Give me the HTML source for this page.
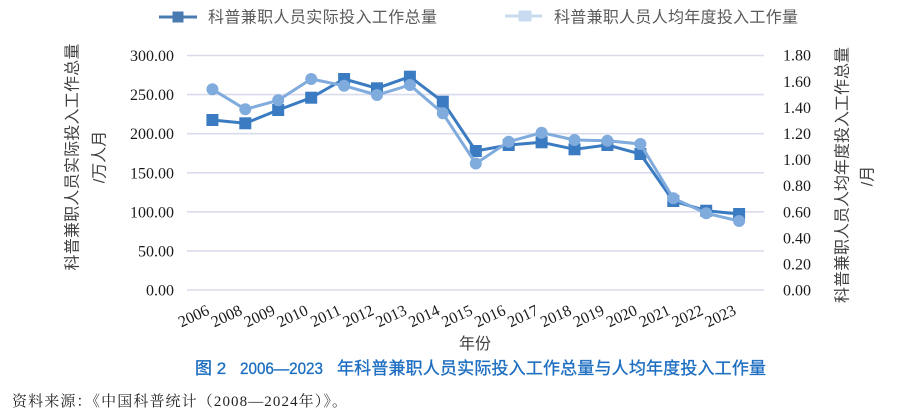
<!DOCTYPE html>
<html><head><meta charset="utf-8"><style>
html,body{margin:0;padding:0;background:#fff;}
svg{display:block;}
.tick{font-family:"Liberation Serif","Noto Serif CJK SC",serif;font-size:16px;fill:#1a1a1a;}
.cjk{font-family:"Liberation Sans","Noto Sans CJK SC",sans-serif;}
</style></head><body>
<svg width="908" height="419" viewBox="0 0 908 419" xmlns="http://www.w3.org/2000/svg">
<!-- legend -->
<line x1="159" y1="17" x2="197" y2="17" stroke="#4a7bb0" stroke-width="3"/>
<rect x="172.5" y="11.5" width="11" height="11" fill="#4a7bb0"/>
<text class="cjk" x="208" y="22.5" font-size="16" fill="#595959" textLength="229" lengthAdjust="spacing">科普兼职人员实际投入工作总量</text>
<line x1="505" y1="16" x2="542" y2="16" stroke="#c8dbf0" stroke-width="3"/>
<rect x="518.5" y="10.5" width="13" height="11" fill="#c8dbf0"/>
<text class="cjk" x="554" y="22.5" font-size="16" fill="#595959" textLength="244" lengthAdjust="spacing">科普兼职人员人均年度投入工作量</text>

<!-- gridlines -->
<g stroke="#d9dcec" stroke-width="1.6">
<line x1="187" y1="55.5" x2="764" y2="55.5"/>
<line x1="187" y1="94.6" x2="764" y2="94.6"/>
<line x1="187" y1="133.7" x2="764" y2="133.7"/>
<line x1="187" y1="172.8" x2="764" y2="172.8"/>
<line x1="187" y1="211.8" x2="764" y2="211.8"/>
<line x1="187" y1="250.9" x2="764" y2="250.9"/>
<line x1="187" y1="290" x2="764" y2="290"/>
</g>

<!-- left ticks -->
<g class="tick" text-anchor="end">
<text x="174" y="61">300.00</text>
<text x="174" y="100.1">250.00</text>
<text x="174" y="139.2">200.00</text>
<text x="174" y="178.3">150.00</text>
<text x="174" y="217.3">100.00</text>
<text x="174" y="256.4">50.00</text>
<text x="174" y="295.5">0.00</text>
</g>
<!-- right ticks -->
<g class="tick" text-anchor="start">
<text x="783" y="60.7">1.80</text>
<text x="783" y="86.8">1.60</text>
<text x="783" y="112.9">1.40</text>
<text x="783" y="139">1.20</text>
<text x="783" y="165.1">1.00</text>
<text x="783" y="191.2">0.80</text>
<text x="783" y="217.3">0.60</text>
<text x="783" y="243.4">0.40</text>
<text x="783" y="269.4">0.20</text>
<text x="783" y="295.5">0.00</text>
</g>

<!-- axis titles -->
<text class="cjk" x="73" y="157" font-size="16" fill="#404040" text-anchor="middle" dominant-baseline="central" transform="rotate(-90 73 157)" textLength="227" lengthAdjust="spacing">科普兼职人员实际投入工作总量</text>
<text class="cjk" x="100" y="157" font-size="16" fill="#404040" text-anchor="middle" dominant-baseline="central" transform="rotate(-90 100 157)">/万人月</text>
<text class="cjk" x="843" y="175" font-size="16" fill="#404040" text-anchor="middle" dominant-baseline="central" transform="rotate(-90 843 175)" textLength="256" lengthAdjust="spacing">科普兼职人员人均年度投入工作总量</text>
<text class="cjk" x="868" y="176" font-size="16" fill="#404040" text-anchor="middle" dominant-baseline="central" transform="rotate(-90 868 176)">/月</text>

<!-- x labels -->
<g class="tick" text-anchor="end">
<text x="210.4" y="314" transform="rotate(-25 210.4 314)">2006</text>
<text x="243.3" y="314" transform="rotate(-25 243.3 314)">2008</text>
<text x="276.2" y="314" transform="rotate(-25 276.2 314)">2009</text>
<text x="309.2" y="314" transform="rotate(-25 309.2 314)">2010</text>
<text x="342.1" y="314" transform="rotate(-25 342.1 314)">2011</text>
<text x="375.0" y="314" transform="rotate(-25 375.0 314)">2012</text>
<text x="407.9" y="314" transform="rotate(-25 407.9 314)">2013</text>
<text x="440.8" y="314" transform="rotate(-25 440.8 314)">2014</text>
<text x="473.8" y="314" transform="rotate(-25 473.8 314)">2015</text>
<text x="506.7" y="314" transform="rotate(-25 506.7 314)">2016</text>
<text x="539.6" y="314" transform="rotate(-25 539.6 314)">2017</text>
<text x="572.5" y="314" transform="rotate(-25 572.5 314)">2018</text>
<text x="605.4" y="314" transform="rotate(-25 605.4 314)">2019</text>
<text x="638.4" y="314" transform="rotate(-25 638.4 314)">2020</text>
<text x="671.3" y="314" transform="rotate(-25 671.3 314)">2021</text>
<text x="704.2" y="314" transform="rotate(-25 704.2 314)">2022</text>
<text x="737.1" y="314" transform="rotate(-25 737.1 314)">2023</text>
</g>
<text class="cjk" x="459" y="349" font-size="16" fill="#404040">年份</text>

<!-- series 1 -->
<polyline fill="none" stroke="#3a7bc1" stroke-width="3" stroke-linejoin="round"
points="212.4,120 245.3,123.3 278.2,110 311.2,97.7 344.1,79 377.0,88.3 409.9,76.7 442.8,101.7 475.8,151 508.7,145 541.6,142.3 574.5,149.3 607.4,145 640.4,154 673.3,201 706.2,210.7 739.1,214"/>
<g fill="#3a7bc1">
<rect x="206.4" y="114" width="12" height="12"/>
<rect x="239.3" y="117.3" width="12" height="12"/>
<rect x="272.2" y="104" width="12" height="12"/>
<rect x="305.2" y="91.7" width="12" height="12"/>
<rect x="338.1" y="73" width="12" height="12"/>
<rect x="371.0" y="82.3" width="12" height="12"/>
<rect x="403.9" y="70.7" width="12" height="12"/>
<rect x="436.8" y="95.7" width="12" height="12"/>
<rect x="469.8" y="145" width="12" height="12"/>
<rect x="502.7" y="139" width="12" height="12"/>
<rect x="535.6" y="136.3" width="12" height="12"/>
<rect x="568.5" y="143.3" width="12" height="12"/>
<rect x="601.4" y="139" width="12" height="12"/>
<rect x="634.4" y="148" width="12" height="12"/>
<rect x="667.3" y="195" width="12" height="12"/>
<rect x="700.2" y="204.7" width="12" height="12"/>
<rect x="733.1" y="208" width="12" height="12"/>
</g>

<!-- series 2 -->
<polyline fill="none" stroke="#80abdd" stroke-width="3" stroke-linejoin="round"
points="212.4,89.3 245.3,109.3 278.2,100.3 311.2,79 344.1,85.7 377.0,95 409.9,85 442.8,113.3 475.8,163.5 508.7,141.7 541.6,132.7 574.5,140 607.4,140.7 640.4,144 673.3,198.3 706.2,213.3 739.1,221"/>
<g fill="#80abdd">
<circle cx="212.4" cy="89.3" r="6"/>
<circle cx="245.3" cy="109.3" r="6"/>
<circle cx="278.2" cy="100.3" r="6"/>
<circle cx="311.2" cy="79" r="6"/>
<circle cx="344.1" cy="85.7" r="6"/>
<circle cx="377.0" cy="95" r="6"/>
<circle cx="409.9" cy="85" r="6"/>
<circle cx="442.8" cy="113.3" r="6"/>
<circle cx="475.8" cy="163.5" r="6"/>
<circle cx="508.7" cy="141.7" r="6"/>
<circle cx="541.6" cy="132.7" r="6"/>
<circle cx="574.5" cy="140" r="6"/>
<circle cx="607.4" cy="140.7" r="6"/>
<circle cx="640.4" cy="144" r="6"/>
<circle cx="673.3" cy="198.3" r="6"/>
<circle cx="706.2" cy="213.3" r="6"/>
<circle cx="739.1" cy="221" r="6"/>
</g>

<!-- caption -->
<g class="cjk" fill="#1f6fc1" stroke="#1f6fc1" stroke-width="0.35" font-size="17">
<text x="195" y="374">图 2</text>
<text x="240" y="374" textLength="83" lengthAdjust="spacingAndGlyphs">2006—2023</text>
<text x="337" y="374" textLength="429" lengthAdjust="spacing">年科普兼职人员实际投入工作总量与人均年度投入工作量</text>
</g>
<!-- source -->
<text x="12" y="406" font-family="'Liberation Serif','Noto Serif CJK SC',serif" font-size="15" fill="#231f20" textLength="335" lengthAdjust="spacing">资料来源：《中国科普统计（2008—2024年）》。</text>
</svg>
</body></html>
